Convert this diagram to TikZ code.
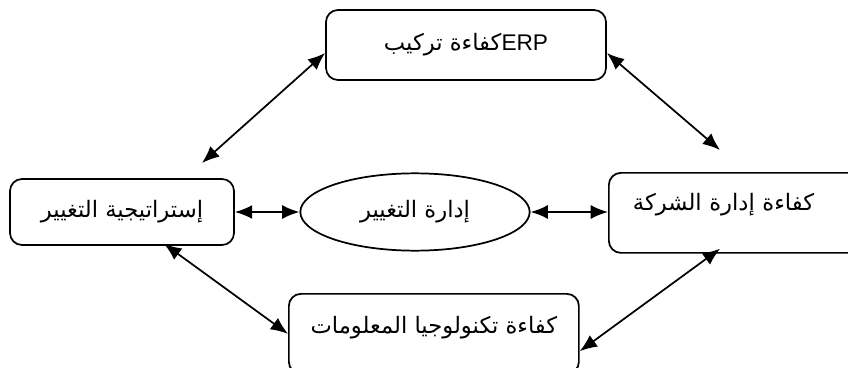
\documentclass[tikz,border=0pt]{standalone}
\usepackage{fontspec}
\setmainfont{Liberation Sans}
\newfontfamily\arabicfont[Script=Arabic]{DejaVu Sans}
\TeXXeTstate=1
\usetikzlibrary{positioning,arrows.meta,shapes.geometric,calc}

\begin{document}
\begin{tikzpicture}[x=0.75pt,y=-0.75pt]
    \tikzset{arrow/.style = {line width=1.3pt,{Latex[length=13pt,width=10.5pt]}-{Latex[length=13pt,width=10.5pt]}}, }
       \tikzset{block/.style = {rectangle, rounded corners=9pt, draw, line width=1.3pt, text centered, font=\fontsize{17}{20}\selectfont}, }
       \tikzset{goal/.style = {ellipse, draw, line width=1.3pt, inner sep=0pt, text centered, font=\fontsize{17}{20}\selectfont}, }
       \useasboundingbox (0,0) rectangle (848,367);
       \clip (0,0) rectangle (848,367);
       \node[block, minimum width=210pt, minimum height=52.5pt] (erp) at (466,45)
         {\beginR\beginL ERP\endL{}{\arabicfont كفاءة تركيب}\endR};
       \node[block, minimum width=168pt, minimum height=49.5pt] (strat) at (122,212)
         {\arabicfont\beginR إستراتيجية التغيير\endR};
       \node[goal, minimum width=172pt, minimum height=58pt] (mgmt) at (415,212)
         {\arabicfont\beginR إدارة التغيير\endR};
       \node[block, anchor=north west, minimum width=189pt, minimum height=60pt,
             inner xsep=18pt, text width=153pt, align=left] (firm) at (608,172)
         {\raisebox{6pt}[\height][\depth]{\arabicfont\beginR كفاءة إدارة الشركة\endR}};
       \node[block, anchor=north west, minimum width=217.5pt, minimum height=60pt] (itcomp) at (288,293)
         {\raisebox{4.5pt}[\height][\depth]{\arabicfont\beginR كفاءة تكنولوجيا المعلومات\endR}};

       \coordinate (ul) at (202,163);
       \coordinate (ur) at (720,150);

       \draw[arrow] ([yshift=-6pt]erp.west) -- (ul);
       \draw[arrow] ([yshift=-6pt]erp.east) -- (ur);
       \draw[arrow] (strat.east) -- (strat.east -| mgmt.west);
       \draw[arrow] (mgmt.east) -- (mgmt.east -| firm.west);
       \draw[arrow] ($(strat.south west)+(155,-2)$) -- (itcomp.west);
       \draw[arrow] ($(firm.south west)+(112,-5)$) -- ([yshift=-13pt]itcomp.east);

\end{tikzpicture}
\end{document}
